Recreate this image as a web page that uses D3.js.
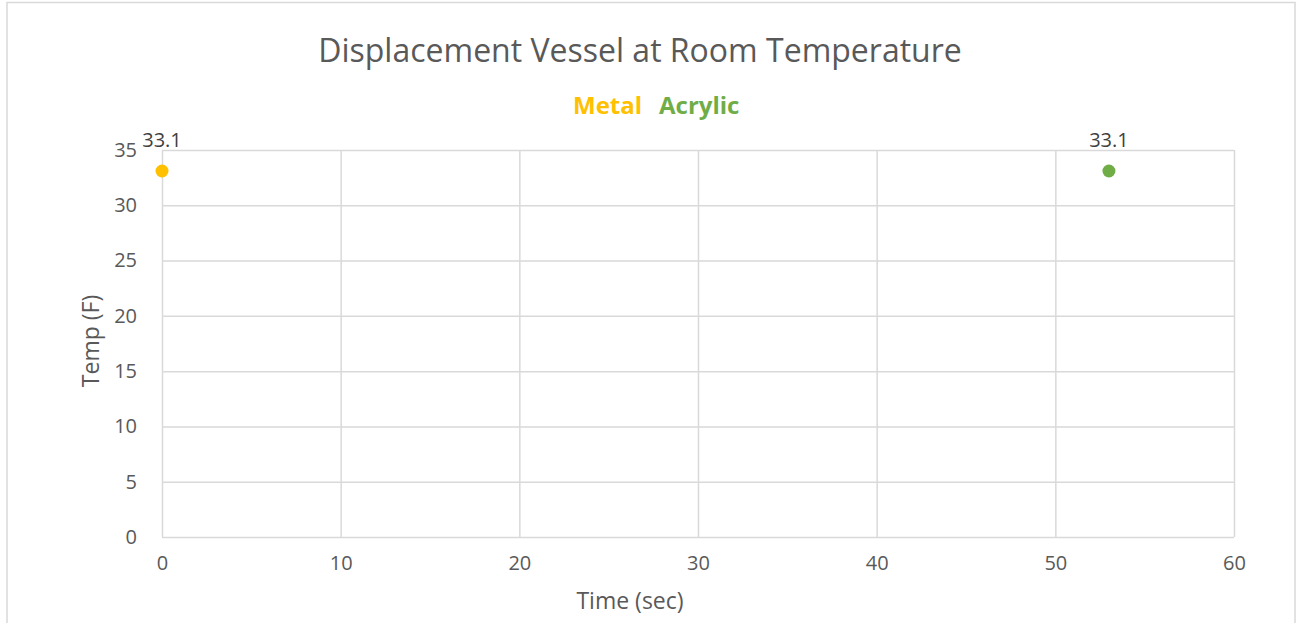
<!DOCTYPE html>
<html>
<head>
<meta charset="utf-8">
<script src="https://cdn.jsdelivr.net/npm/d3@7.9.0/dist/d3.min.js"></script>
<style>
  body { margin: 0; background: #fff; }
  svg { display: block; font-family: 'Open Sans', 'Noto Sans', sans-serif; }
</style>
</head>
<body>
<svg id="chart" width="1297" height="623"></svg>
<script>
const seriesNames = ['Metal', 'Acrylic'];
const seriesColors = ['#FFC000', '#70AD47'];
const metalPoints = [{ x: 0, y: 33.1 }];
const acrylicPoints = [{ x: 53, y: 33.1 }];
const xTicks = [0, 10, 20, 30, 40, 50, 60];
const yTicks = [0, 5, 10, 15, 20, 25, 30, 35];

const svg = d3.select('#chart');
const textColor = '#595959';
const gridColor = '#d9d9d9';
const font = "'Open Sans', 'Noto Sans', sans-serif";

// outer chart border
svg.append('rect')
  .attr('x', 7).attr('y', 2.5)
  .attr('width', 1288).attr('height', 640)
  .attr('fill', 'none').attr('stroke', gridColor).attr('stroke-width', 1.5);

const area = { left: 162, right: 1234, top: 150, bottom: 537 };

const xScale = d3.scaleLinear().domain([0, 60]).range([area.left, area.right]);
const yScale = d3.scaleLinear().domain([0, 35]).range([area.bottom, area.top]);

// gridlines
svg.append('g')
  .attr('transform', `translate(${area.left},0)`)
  .call(d3.axisLeft(yScale).tickValues(yTicks).tickFormat('').tickSize(-(area.right - area.left)))
  .call(g => g.select('.domain').remove())
  .call(g => g.selectAll('line').attr('stroke', gridColor).attr('stroke-width', 1.5));

svg.append('g')
  .attr('transform', `translate(0,${area.bottom})`)
  .call(d3.axisBottom(xScale).tickValues(xTicks).tickFormat('').tickSize(-(area.bottom - area.top)))
  .call(g => g.select('.domain').remove())
  .call(g => g.selectAll('line').attr('stroke', gridColor).attr('stroke-width', 1.5));

// tick labels
const yAxis = svg.append('g')
  .attr('transform', `translate(${area.left},0)`)
  .call(d3.axisLeft(yScale).tickValues(yTicks).tickSize(0).tickPadding(25));
yAxis.attr('font-family', font).attr('font-size', 20);
yAxis.select('.domain').remove();
yAxis.selectAll('text').attr('fill', textColor);

const xAxis = svg.append('g')
  .attr('transform', `translate(0,${area.bottom})`)
  .call(d3.axisBottom(xScale).tickValues(xTicks).tickSize(0).tickPadding(19));
xAxis.attr('font-family', font).attr('font-size', 20);
xAxis.select('.domain').remove();
xAxis.selectAll('text').attr('fill', textColor);

// axis titles
svg.append('text')
  .attr('x', 630).attr('y', 609)
  .attr('text-anchor', 'middle')
  .attr('fill', textColor).style('font-size', '23px')
  .text('Time (sec)');

svg.append('text')
  .attr('transform', 'translate(99,341) rotate(-90)')
  .attr('text-anchor', 'middle')
  .attr('fill', textColor).style('font-size', '23px')
  .text('Temp (F)');

// title
svg.append('text')
  .attr('x', 640).attr('y', 62)
  .attr('text-anchor', 'middle')
  .attr('fill', textColor).style('font-size', '32px')
  .text('Displacement Vessel at Room Temperature');

// legend
const legend = svg.append('text')
  .attr('y', 114).attr('text-anchor', 'start')
  .style('font-size', '24px').style('font-weight', 'bold');
legend.append('tspan').attr('x', 573).attr('fill', seriesColors[0]).text(seriesNames[0]);
legend.append('tspan').attr('x', 659).attr('fill', seriesColors[1]).text(seriesNames[1]);

// points and labels
[metalPoints, acrylicPoints].forEach((pts, i) => {
  const g = svg.append('g');
  g.selectAll('circle').data(pts).join('circle')
    .attr('cx', d => xScale(d.x)).attr('cy', d => yScale(d.y))
    .attr('r', 6.5).attr('fill', seriesColors[i]);
  g.selectAll('text').data(pts).join('text')
    .attr('x', d => xScale(d.x)).attr('y', d => yScale(d.y) - 24)
    .attr('text-anchor', 'middle')
    .attr('fill', '#404040').style('font-size', '20px')
    .text(d => d.y.toFixed(1));
});
</script>
</body>
</html>
